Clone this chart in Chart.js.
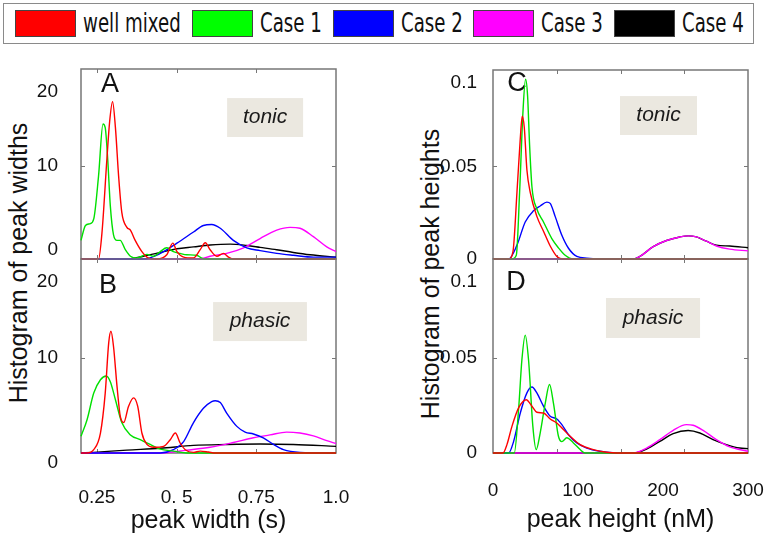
<!DOCTYPE html>
<html>
<head>
<meta charset="utf-8">
<script src="https://cdn.jsdelivr.net/npm/chart.js@4.4.1/dist/chart.umd.min.js"></script>
<style>
  body { margin: 0; width: 766px; height: 534px; position: relative; overflow: hidden; background: #fff; font-family: "Liberation Sans", Arial, sans-serif; }
  canvas { position: absolute; }
  #legendBox { position: absolute; left: 3px; top: 3px; width: 751px; height: 41px; border: 1.5px solid #8a8a8a; box-sizing: border-box; }
  .sw { position: absolute; top: 10px; width: 61px; height: 27px; border: 1px solid #444; box-sizing: border-box; }
  .lt { position: absolute; top: 10px; font-family: "DejaVu Sans", sans-serif; font-size: 26px; line-height: 26px; white-space: nowrap; color: #111; transform: scaleX(0.7); transform-origin: left center; }
  .ytitle { position: absolute; font-size: 25px; color: #111; white-space: nowrap; transform: translate(-50%, -50%) rotate(-90deg); }
</style>
</head>
<body>
<div id="legendBox"></div>
<div class="ytitle" style="left:18px;top:263px">Histogram of peak widths</div>
<div class="ytitle" style="left:430px;top:274px">Histogram of peak heights</div>
<canvas id="panelA" width="336" height="221" style="left:20px;top:50px"></canvas>
<canvas id="panelB" width="336" height="294" style="left:20px;top:240px"></canvas>
<canvas id="panelC" width="336" height="220" style="left:430px;top:51px"></canvas>
<canvas id="panelD" width="336" height="294" style="left:430px;top:240px"></canvas>
<script>
// series
const seriesNames = ['well mixed', 'Case 1', 'Case 2', 'Case 3', 'Case 4'];
const legendColors = ['#ff0000', '#00ff00', '#0000ff', '#ff00ff', '#000000'];
const lineColors = ['#ff0000', '#00e000', '#0000ff', '#ff00ff', '#000000'];

// axes
const widthTicks = [0.25, 0.5, 0.75, 1.0];
const widthTickLabels = ['0.25', '0. 5', '0.75', '1.0'];
const widthMarks = [0.25, 0.5, 0.75];
const heightTicks = [0, 100, 200, 300];
const heightTickLabels = ['0', '100', '200', '300'];
const heightMarks = [75, 150, 225];
const countTicks = [0, 10, 20];
const countLabelsA = [['0', ''], '10', ['', '', '20']];
const countLabelsB = [['', '0'], '10', ['', '', '20']];
const densityTicks = [0, 0.05, 0.1];
const densityLabelsC = ['0', '0.05', ['', '0.1']];
const densityLabelsD = ['0', '0.05', ['', '', '0.1']];

// A: tonic, peak width (s) vs histogram
const tonicWidthWell = [[0.2,0],[0.255,0],[0.266,2.9],[0.281,10.6],[0.290,14.8],[0.299,16.9],[0.308,14.1],[0.318,8.9],[0.328,5.0],[0.344,3.4],[0.355,3.1],[0.370,2.0],[0.391,0.8],[0.412,0.1],[0.438,0],[0.469,0.45],[0.488,1.7],[0.501,0.8],[0.522,0.2],[0.553,0.1],[0.574,1.0],[0.590,1.75],[0.605,1.0],[0.626,0.3],[0.647,0.6],[0.663,0.2],[0.678,0],[1.0,0]];
const tonicWidthCase1 = [[0.2,2.0],[0.214,3.6],[0.229,3.8],[0.240,4.3],[0.255,8.9],[0.269,14.5],[0.276,14.1],[0.284,10.6],[0.292,5.7],[0.302,2.6],[0.313,2.0],[0.323,2.0],[0.339,1.0],[0.355,0.3],[0.375,0.1],[0.407,0.5],[0.428,0.3],[0.449,0.8],[0.469,1.2],[0.490,0.8],[0.511,0.6],[0.532,0.45],[0.563,0.4],[0.579,0.1],[0.6,0],[1.0,0]];
const tonicWidthCase2 = [[0.2,0],[0.396,0],[0.449,0.6],[0.501,1.7],[0.553,2.9],[0.584,3.6],[0.610,3.7],[0.637,3.3],[0.678,2.0],[0.720,1.2],[0.762,0.9],[0.814,0.6],[0.866,0.4],[0.929,0.2],[1.0,0.2]];
const tonicWidthCase3 = [[0.2,0],[0.574,0],[0.605,0.3],[0.657,0.6],[0.710,1.2],[0.762,2.2],[0.814,3.1],[0.856,3.4],[0.887,3.3],[0.929,2.4],[0.971,1.3],[1.0,0.8]];
const tonicWidthCase4 = [[0.2,0],[0.344,0],[0.396,0.3],[0.449,0.7],[0.501,1.1],[0.553,1.3],[0.605,1.5],[0.668,1.6],[0.720,1.45],[0.762,1.25],[0.814,1.0],[0.866,0.7],[0.919,0.45],[1.0,0.2]];

// B: phasic, peak width
const phasicWidthWell = [[0.2,0],[0.219,0],[0.240,0.35],[0.261,2.1],[0.276,6.3],[0.287,11.6],[0.294,12.8],[0.302,11.2],[0.313,7.0],[0.323,3.9],[0.334,3.2],[0.349,4.9],[0.365,5.8],[0.378,4.9],[0.391,2.1],[0.407,0.9],[0.428,0.6],[0.459,0.7],[0.480,1.4],[0.496,2.1],[0.511,1.05],[0.527,0.35],[0.553,0.07],[0.574,0.2],[0.600,0.1],[0.621,0],[1.0,0]];
const phasicWidthCase1 = [[0.2,1.75],[0.219,3.5],[0.240,6.3],[0.261,7.7],[0.279,8.1],[0.292,7.5],[0.308,5.6],[0.328,3.2],[0.355,1.9],[0.386,1.4],[0.417,0.9],[0.449,0.4],[0.490,0.2],[0.532,0],[1.0,0]];
const phasicWidthCase2 = [[0.2,0],[0.449,0],[0.490,0.35],[0.522,1.2],[0.553,3.2],[0.584,4.7],[0.610,5.4],[0.621,5.5],[0.637,5.3],[0.657,4.2],[0.689,2.8],[0.715,2.2],[0.741,2.0],[0.772,1.6],[0.804,0.9],[0.835,0.35],[0.887,0.07],[1.0,0]];
const phasicWidthCase3 = [[0.2,0],[0.449,0],[0.532,0.3],[0.605,0.6],[0.678,1.1],[0.741,1.6],[0.793,1.9],[0.845,2.2],[0.887,2.1],[0.929,1.8],[0.971,1.3],[1.0,1.0]];
const phasicWidthCase4 = [[0.2,0],[0.240,0.07],[0.344,0.3],[0.449,0.5],[0.553,0.8],[0.657,0.9],[0.762,0.95],[0.866,0.9],[1.0,0.7]];

// C: tonic, peak height (nM)
const tonicHeightWell = [[0,0],[18.4,0],[23.5,0.004],[28.2,0.036],[32.1,0.065],[34.4,0.077],[36.8,0.071],[39.9,0.048],[43.8,0.036],[51.6,0.023],[59.4,0.015],[67.3,0.007],[75.1,0.0014],[82.9,0],[300,0]];
const tonicHeightCase1 = [[0,0],[22.3,0],[27.4,0.002],[31.3,0.036],[35.2,0.079],[38.3,0.097],[40.7,0.088],[43.0,0.062],[45.8,0.039],[51.6,0.027],[59.4,0.020],[69.2,0.011],[77.0,0.006],[84.9,0.002],[94.6,0],[300,0]];
const tonicHeightCase2 = [[0,0],[18.4,0],[28.2,0.0075],[37.9,0.020],[47.7,0.026],[55.5,0.0286],[63.4,0.0307],[67.3,0.030],[73.1,0.023],[81.0,0.0128],[88.8,0.0058],[98.6,0.0014],[110.3,0.0005],[149.4,0],[300,0]];
const tonicHeightCase3 = [[0,0],[165,0],[172.9,0.0014],[188.5,0.0067],[204.2,0.010],[219.8,0.0119],[229.6,0.0125],[239.4,0.0119],[251.1,0.0096],[262.8,0.007],[278.5,0.0053],[300,0.0044]];
const tonicHeightCase4 = [[0,0],[165,0],[172.9,0.0014],[188.5,0.0067],[204.2,0.010],[219.8,0.0119],[229.6,0.0125],[239.4,0.0119],[251.1,0.0096],[262.8,0.0075],[278.5,0.007],[300,0.0061]];

// D: phasic, peak height
const phasicHeightWell = [[0,0],[11.7,0],[16.4,0.0044],[22.3,0.014],[30.1,0.0237],[39.1,0.028],[45.8,0.0246],[51.6,0.0214],[59.4,0.021],[67.3,0.0179],[75.1,0.0158],[82.9,0.0123],[90.7,0.0088],[102.5,0.0044],[118.1,0.0018],[133.8,0.0004],[145.5,0],[300,0]];
const phasicHeightCase1 = [[0,0],[25.0,0],[30.1,0.023],[34.0,0.049],[37.9,0.062],[41.8,0.049],[46.9,0.014],[50.8,0.0018],[55.5,0.0105],[61.4,0.026],[66.5,0.036],[71.2,0.026],[77.0,0.0088],[81.0,0.006],[86.8,0.008],[94.6,0.0053],[102.5,0.0018],[108.3,0],[300,0]];
const phasicHeightCase2 = [[0,0],[18.4,0],[24.2,0.006],[32.1,0.021],[39.9,0.0316],[45.8,0.0347],[51.6,0.0316],[59.4,0.0246],[67.3,0.0193],[75.1,0.0179],[81.0,0.0149],[88.8,0.0096],[98.6,0.0053],[110.3,0.0026],[125.9,0.0009],[145.5,0],[300,0]];
const phasicHeightCase3 = [[0,0],[165,0],[180.7,0.0026],[196.3,0.007],[212.0,0.0119],[227.6,0.0149],[235.4,0.0146],[247.2,0.0119],[262.8,0.007],[278.5,0.0032],[300,0.0009]];
const phasicHeightCase4 = [[0,0],[165,0],[180.7,0.0021],[196.3,0.0061],[212.0,0.0102],[229.6,0.0118],[243.3,0.0105],[258.9,0.007],[274.5,0.0044],[290.2,0.0026],[300,0.0023]];

// legend across the top
let lx = 15;
seriesNames.forEach((name, i) => {
  const sw = document.createElement('div');
  sw.className = 'sw';
  sw.style.left = lx + 'px';
  sw.style.background = legendColors[i];
  document.body.appendChild(sw);
  lx += 68;
  const t = document.createElement('span');
  t.className = 'lt';
  t.textContent = name;
  t.style.left = lx + 'px';
  document.body.appendChild(t);
  lx += t.offsetWidth * 0.7 + 11;
});

const tickFont = { family: '"Liberation Sans", Arial, sans-serif', size: 19, lineHeight: 1 };
const titleFont = { family: '"Liberation Sans", Arial, sans-serif', size: 25, lineHeight: 1 };

// box, inward ticks, panel letter and the grey note label
const framePlugin = {
  id: 'frame',
  beforeDatasetsDraw(chart, args, o) {
    const { ctx, chartArea: a, scales: { x, y } } = chart;
    ctx.save();
    const bx = a.left + o.box[0] * a.width, by = a.top + o.box[1] * a.height;
    const bw = (o.box[2] - o.box[0]) * a.width, bh = (o.box[3] - o.box[1]) * a.height;
    ctx.fillStyle = '#ebe8e0';
    ctx.fillRect(bx, by, bw, bh);
    ctx.fillStyle = '#1a1a1a';
    ctx.textAlign = 'center';
    ctx.textBaseline = 'middle';
    ctx.font = 'italic 21px "Liberation Sans", Arial, sans-serif';
    ctx.fillText(o.note, bx + bw / 2, by + bh / 2);
    ctx.fillStyle = '#111';
    ctx.font = '27px "Liberation Sans", Arial, sans-serif';
    ctx.fillText(o.letter, a.left + o.letterAt[0] * a.width, a.top + o.letterAt[1] * a.height);

    ctx.strokeStyle = '#777';
    ctx.lineWidth = 1.5;
    ctx.strokeRect(a.left, a.top, a.width, a.height);
    ctx.lineWidth = 1;
    ctx.beginPath();
    o.xMarks.forEach(v => {
      const px = Math.round(x.getPixelForValue(v)) + 0.5;
      ctx.moveTo(px, a.bottom); ctx.lineTo(px, a.bottom - 4);
      ctx.moveTo(px, a.top); ctx.lineTo(px, a.top + 4);
    });
    o.yMarks.forEach(v => {
      const py = Math.round(y.getPixelForValue(v)) + 0.5;
      ctx.moveTo(a.left, py); ctx.lineTo(a.left + 4, py);
      ctx.moveTo(a.right, py); ctx.lineTo(a.right - 4, py);
    });
    ctx.stroke();
    ctx.restore();
  }
};

function makePanel(id, o) {
  return new Chart(document.getElementById(id), {
    type: 'line',
    data: {
      datasets: o.series.map((pts, i) => ({
        label: seriesNames[i],
        data: pts.map(p => ({ x: p[0], y: p[1] })),
        borderColor: lineColors[i],
        borderWidth: 1.4,
        pointRadius: 0,
        fill: false,
        cubicInterpolationMode: 'monotone',
        clip: 3
      }))
    },
    options: {
      responsive: false,
      animation: false,
      devicePixelRatio: 1,
      layout: { padding: { top: 19, right: o.rightPad, bottom: o.bottomPad, left: 0 } },
      plugins: {
        legend: { display: false },
        tooltip: { enabled: false },
        frame: { letter: o.letter, letterAt: o.letterAt, note: o.note, box: o.box, xMarks: o.xMarks, yMarks: o.yMarks }
      },
      scales: {
        x: {
          type: 'linear',
          min: o.xMin,
          max: o.xMax,
          grid: { display: false },
          border: { display: false },
          afterBuildTicks: s => { s.ticks = o.xTicks.map(v => ({ value: v })); },
          afterFit: s => { s.height = o.xHeight; s.paddingLeft = 0; s.paddingRight = 0; },
          ticks: { display: o.showX, autoSkip: false, maxRotation: 0, padding: o.xPad, color: '#111', font: tickFont, callback: (v, i) => o.xLabels[i] },
          title: { display: o.showX, text: o.xTitle, color: '#111', font: titleFont, padding: { top: 0, bottom: o.titlePad } }
        },
        y: {
          type: 'linear',
          min: 0,
          max: o.yMax,
          grid: { display: false },
          border: { display: false },
          afterBuildTicks: s => { s.ticks = o.yTicks.map(v => ({ value: v })); },
          afterFit: s => { s.width = o.yWidth; s.paddingTop = 0; s.paddingBottom = 0; },
          ticks: { autoSkip: false, padding: o.yPad, color: '#111', font: tickFont, callback: (v, i) => o.yLabels[i] }
        }
      }
    },
    plugins: [framePlugin]
  });
}

const widthAxis = { xMin: 0.2, xMax: 1.0, xTicks: widthTicks, xLabels: widthTickLabels, xMarks: widthMarks, xTitle: 'peak width (s)',
  yMax: 20.4, yTicks: countTicks, yMarks: [10], yWidth: 61, yPad: 15, rightPad: 20 };
const heightAxis = { xMin: 0, xMax: 300, xTicks: heightTicks, xLabels: heightTickLabels, xMarks: heightMarks, xTitle: 'peak height (nM)',
  yMax: 0.102, yTicks: densityTicks, yMarks: [0.05], yWidth: 63, yPad: 8, rightPad: 18 };

makePanel('panelA', Object.assign({}, widthAxis, {
  series: [tonicWidthWell, tonicWidthCase1, tonicWidthCase2, tonicWidthCase3, tonicWidthCase4],
  yLabels: countLabelsA, showX: false, xHeight: 0, xPad: 0, titlePad: 0, bottomPad: 12,
  letter: 'A', letterAt: [0.114, 0.084], note: 'tonic', box: [0.573, 0.153, 0.871, 0.358]
}));
makePanel('panelB', Object.assign({}, widthAxis, {
  series: [phasicWidthWell, phasicWidthCase1, phasicWidthCase2, phasicWidthCase3, phasicWidthCase4],
  yLabels: countLabelsB, showX: true, xHeight: 81, xPad: 27, titlePad: 0, bottomPad: 0,
  letter: 'B', letterAt: [0.106, 0.139], note: 'phasic', box: [0.518, 0.222, 0.886, 0.423]
}));
makePanel('panelC', Object.assign({}, heightAxis, {
  series: [tonicHeightWell, tonicHeightCase1, tonicHeightCase2, tonicHeightCase3, tonicHeightCase4],
  yLabels: densityLabelsC, showX: false, xHeight: 0, xPad: 0, titlePad: 0, bottomPad: 12,
  letter: 'C', letterAt: [0.094, 0.074], note: 'tonic', box: [0.498, 0.138, 0.8, 0.344]
}));
makePanel('panelD', Object.assign({}, heightAxis, {
  series: [phasicHeightWell, phasicHeightCase1, phasicHeightCase2, phasicHeightCase3, phasicHeightCase4],
  yLabels: densityLabelsD, showX: true, xHeight: 81, xPad: 20, titlePad: 1, bottomPad: 0,
  letter: 'D', letterAt: [0.09, 0.119], note: 'phasic', box: [0.443, 0.201, 0.812, 0.407]
}));
</script>
</body>
</html>
